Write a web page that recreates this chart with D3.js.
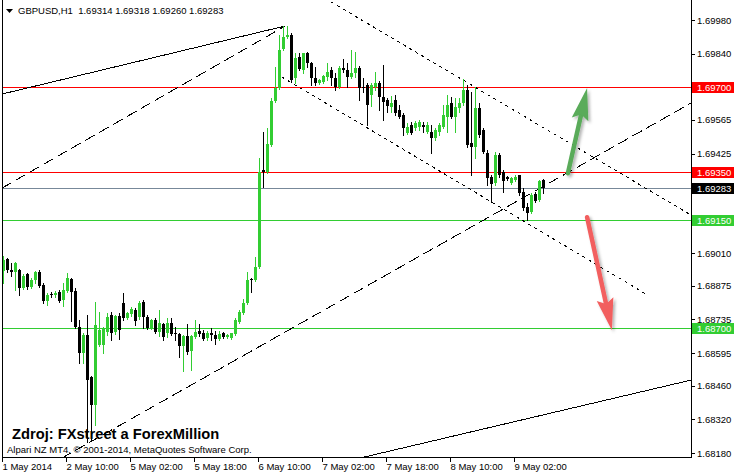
<!DOCTYPE html>
<html><head><meta charset="utf-8">
<script src="https://cdn.jsdelivr.net/npm/d3@7"></script>
<style>html,body{margin:0;padding:0;background:#fff;overflow:hidden}svg{display:block}</style>
</head><body><svg id="c" width="734" height="475"></svg>
<script>
// ---------------- DATA ----------------
const symbolTitle = "GBPUSD,H1";
const lastQuote = [1.69314, 1.69318, 1.69260, 1.69283];
const sourceNote = "Zdroj: FXstreet a ForexMillion";
const copyrightNote = "Alpari NZ MT4, \u00A9 2001-2014, MetaQuotes Software Corp.";

const open = [1.68936,1.68986,1.68940,1.68931,1.68940,1.68865,1.68923,1.68869,1.68898,1.68931,
1.68877,1.68811,1.68840,1.68836,1.68848,1.68815,1.68852,1.68902,1.68852,1.68703,
1.68594,1.68669,1.68494,1.68378,1.68628,1.68628,1.68682,1.68753,1.68682,1.68748,
1.68803,1.68740,1.68757,1.68773,1.68744,1.68807,1.68744,1.68698,1.68732,1.68682,
1.68715,1.68678,1.68719,1.68678,1.68673,1.68623,1.68665,1.68603,1.68661,1.68686,
1.68678,1.68657,1.68678,1.68669,1.68653,1.68678,1.68661,1.68657,1.68673,1.68723,
1.68761,1.68803,1.68902,1.68898,1.68952,1.69356,1.69347,1.69460,1.69643,1.69697,
1.69859,1.69909,1.69917,1.69739,1.69826,1.69772,1.69843,1.69801,1.69739,1.69718,
1.69722,1.69743,1.69772,1.69739,1.69701,1.69780,1.69772,1.69743,1.69759,1.69780,
1.69701,1.69709,1.69668,1.69701,1.69718,1.69659,1.69647,1.69618,1.69647,1.69605,
1.69585,1.69510,1.69543,1.69530,1.69535,1.69543,1.69514,1.69514,1.69489,1.69514,
1.69535,1.69576,1.69635,1.69576,1.69614,1.69635,1.69689,1.69468,1.69451,1.69614,
1.69522,1.69426,1.69327,1.69302,1.69418,1.69347,1.69327,1.69302,1.69314,1.69335,
1.69264,1.69202,1.69181,1.69256,1.69231,1.69314];
const high = [1.68998,1.68990,1.68969,1.68973,1.68944,1.68923,1.68927,1.68906,1.68936,1.68940,
1.68885,1.68844,1.68848,1.68852,1.68857,1.68885,1.68927,1.68906,1.68865,1.68732,
1.68678,1.68753,1.68499,1.68807,1.68765,1.68703,1.68761,1.68765,1.68753,1.68761,
1.68844,1.68765,1.68786,1.68782,1.68811,1.68815,1.68753,1.68736,1.68740,1.68773,
1.68719,1.68740,1.68740,1.68703,1.68678,1.68669,1.68715,1.68669,1.68732,1.68715,
1.68690,1.68686,1.68698,1.68686,1.68686,1.68682,1.68673,1.68678,1.68740,1.68773,
1.68819,1.68931,1.68906,1.68994,1.69405,1.69514,1.69530,1.69655,1.69784,1.69917,
1.69955,1.69955,1.69926,1.69843,1.69843,1.69843,1.69847,1.69805,1.69784,1.69734,
1.69751,1.69801,1.69784,1.69759,1.69788,1.69818,1.69801,1.69855,1.69847,1.69788,
1.69739,1.69718,1.69718,1.69763,1.69726,1.69793,1.69655,1.69664,1.69668,1.69626,
1.69593,1.69551,1.69555,1.69560,1.69564,1.69555,1.69555,1.69543,1.69530,1.69551,
1.69626,1.69668,1.69659,1.69655,1.69655,1.69734,1.69709,1.69680,1.69701,1.69635,
1.69530,1.69439,1.69335,1.69430,1.69426,1.69356,1.69331,1.69327,1.69335,1.69335,
1.69281,1.69219,1.69260,1.69264,1.69314,1.69318];
const low = [1.68885,1.68931,1.68915,1.68857,1.68836,1.68861,1.68861,1.68865,1.68885,1.68869,
1.68803,1.68794,1.68827,1.68827,1.68807,1.68790,1.68848,1.68728,1.68698,1.68553,
1.68553,1.68224,1.68233,1.68295,1.68623,1.68594,1.68669,1.68648,1.68673,1.68653,
1.68732,1.68736,1.68748,1.68711,1.68736,1.68698,1.68694,1.68694,1.68678,1.68665,
1.68648,1.68661,1.68669,1.68648,1.68578,1.68520,1.68590,1.68524,1.68657,1.68665,
1.68648,1.68648,1.68648,1.68632,1.68648,1.68657,1.68657,1.68653,1.68669,1.68719,
1.68757,1.68798,1.68848,1.68894,1.68948,1.69285,1.69343,1.69456,1.69639,1.69693,
1.69855,1.69905,1.69722,1.69718,1.69772,1.69759,1.69784,1.69709,1.69709,1.69714,
1.69718,1.69730,1.69709,1.69689,1.69697,1.69763,1.69701,1.69739,1.69743,1.69647,
1.69680,1.69543,1.69622,1.69689,1.69605,1.69564,1.69597,1.69597,1.69585,1.69572,
1.69501,1.69505,1.69505,1.69522,1.69522,1.69514,1.69510,1.69426,1.69480,1.69501,
1.69530,1.69514,1.69572,1.69514,1.69597,1.69626,1.69451,1.69335,1.69405,1.69493,
1.69426,1.69293,1.69223,1.69293,1.69327,1.69264,1.69314,1.69298,1.69310,1.69252,
1.69189,1.69148,1.69177,1.69223,1.69227,1.69260];
const close = [1.68981,1.68940,1.68931,1.68969,1.68865,1.68915,1.68869,1.68898,1.68931,1.68873,
1.68811,1.68836,1.68836,1.68844,1.68811,1.68857,1.68906,1.68848,1.68703,1.68594,
1.68669,1.68482,1.68378,1.68711,1.68690,1.68698,1.68744,1.68678,1.68748,1.68690,
1.68740,1.68761,1.68778,1.68728,1.68803,1.68744,1.68698,1.68732,1.68682,1.68719,
1.68661,1.68719,1.68673,1.68673,1.68623,1.68665,1.68598,1.68665,1.68682,1.68673,
1.68653,1.68678,1.68669,1.68653,1.68673,1.68661,1.68669,1.68678,1.68732,1.68765,
1.68803,1.68898,1.68898,1.68952,1.69347,1.69347,1.69464,1.69643,1.69697,1.69855,
1.69909,1.69917,1.69730,1.69822,1.69776,1.69843,1.69801,1.69739,1.69718,1.69730,
1.69747,1.69763,1.69739,1.69701,1.69780,1.69772,1.69743,1.69759,1.69780,1.69697,
1.69697,1.69626,1.69709,1.69718,1.69659,1.69639,1.69622,1.69635,1.69593,1.69576,
1.69530,1.69535,1.69510,1.69551,1.69555,1.69535,1.69543,1.69489,1.69522,1.69543,
1.69585,1.69626,1.69576,1.69618,1.69635,1.69689,1.69460,1.69451,1.69614,1.69501,
1.69430,1.69323,1.69298,1.69418,1.69335,1.69310,1.69318,1.69323,1.69327,1.69260,
1.69198,1.69177,1.69252,1.69227,1.69310,1.69283];

const timeTickBars = [0, 16, 32, 48, 64, 80, 96, 112, 128];
const timeTickLabels = ["1 May 2014","2 May 10:00","5 May 02:00","5 May 18:00","6 May 10:00","7 May 02:00","7 May 18:00","8 May 10:00","9 May 02:00"];
const priceTicks = [1.69980,1.69840,1.69700,1.69565,1.69425,1.69285,1.69150,1.69010,1.68875,1.68735,1.68595,1.68460,1.68320,1.68180];

const levelPrices = [1.69700, 1.69350, 1.69150, 1.68700];
const bidPrice = 1.69283;

// trend lines: [bar index, price] anchor pairs
const trendAnchors = [
  [[-0.4, 1.69672], [70.4, 1.69955]],   // solid upper channel line
  [[-0.4, 1.69281], [70.4, 1.69955]],   // dashed upper
  [[14.9, 1.68162], [171.9, 1.69635]],  // dashed lower (ray)
  [[90.9, 1.68166], [150.4, 1.68399]],  // solid lower (ray)
  [[113.6, 1.69743], [171.9, 1.69169]], // dotted upper (ray)
  [[69.6, 1.69743], [161.1, 1.68836]]   // dotted lower (segment)
];
const trendExtend = [false, false, true, true, true, false];
const arrowAnchors = [
  [[141.1, 1.69343], [145.9, 1.69697]], // up arrow
  [[145.9, 1.69160], [152.1, 1.68690]]  // down arrow
];

// ---------------- STYLE ----------------
const BULL = "#32cd32", BEAR = "#000000";
const levelColors = ["#ff0000", "#ff0000", "#32cd32", "#32cd32"];
const bidColor = "#778899";
const trendDash = [null, "11,5", "11,5", null, "3,4", "3,4"];
const arrowColors = ["#5aab5a", "#f25f5f"];
const FONT = "'Liberation Sans', Arial, sans-serif";

// ---------------- CHART ----------------
const svg = d3.select("#c");
const plot = {left: 2.5, right: 691.5, top: 0, bottom: 457.5};

const x = d3.scaleLinear().domain([0, 135]).range([3.5, 543.5]);
const y = d3.scaleLinear().domain([1.68180, 1.69980]).range([453, 20]);

const defs = svg.append("defs");
defs.append("clipPath").attr("id", "clip").append("rect")
  .attr("x", 3).attr("y", 0).attr("width", 688).attr("height", 457);
const f = defs.append("filter").attr("id", "shadow").attr("x", "-50%").attr("y", "-50%").attr("width", "200%").attr("height", "200%");
f.append("feDropShadow").attr("dx", 2).attr("dy", 2).attr("stdDeviation", 1.5).attr("flood-color", "#000").attr("flood-opacity", 0.3);

const g = svg.append("g").attr("clip-path", "url(#clip)");

// horizontal levels
g.selectAll(".lvl").data(levelPrices).enter().append("line")
  .attr("x1", 3).attr("x2", 691)
  .attr("y1", d => Math.round(y(d)) + 0.5).attr("y2", d => Math.round(y(d)) + 0.5)
  .attr("stroke", (d, i) => levelColors[i]).attr("stroke-width", 1).attr("shape-rendering", "crispEdges");
g.append("line").attr("x1", 3).attr("x2", 691)
  .attr("y1", Math.round(y(bidPrice)) + 0.5).attr("y2", Math.round(y(bidPrice)) + 0.5)
  .attr("stroke", bidColor).attr("shape-rendering", "crispEdges");

// trend lines
trendAnchors.forEach((a, k) => {
  let [p0, p1] = a;
  if (trendExtend[k]) {
    const s = (p1[1] - p0[1]) / (p1[0] - p0[0]);
    p0 = [-10, p0[1] + s * (-10 - p0[0])];
    p1 = [200, p0[1] + s * (200 - p0[0])];
  }
  g.append("line")
    .attr("x1", x(p0[0])).attr("y1", y(p0[1]))
    .attr("x2", x(p1[0])).attr("y2", y(p1[1]))
    .attr("stroke", "#000").attr("stroke-width", 1)
    .attr("stroke-dasharray", trendDash[k])
    .attr("shape-rendering", "crispEdges");
});

// candles
const bars = d3.range(open.length).map(i => ({i, o: open[i], h: high[i], l: low[i], c: close[i]}));
const cg = g.append("g").attr("shape-rendering", "crispEdges");
cg.selectAll(".wick").data(bars).enter().append("line")
  .attr("x1", d => x(d.i)).attr("x2", d => x(d.i))
  .attr("y1", d => Math.round(y(d.h))).attr("y2", d => Math.round(y(d.l)) + 1)
  .attr("stroke", d => d.c >= d.o ? BULL : BEAR);
cg.selectAll(".body").data(bars).enter().append("rect")
  .attr("x", d => x(d.i) - 1.5).attr("width", 3)
  .attr("y", d => Math.round(y(Math.max(d.o, d.c))))
  .attr("height", d => Math.max(1, Math.round(y(Math.min(d.o, d.c))) - Math.round(y(Math.max(d.o, d.c)))))
  .attr("fill", d => d.c >= d.o ? BULL : BEAR);

// arrows
arrowAnchors.forEach((a, k) => {
  const x0 = x(a[0][0]), y0 = y(a[0][1]), x1 = x(a[1][0]), y1 = y(a[1][1]);
  const len = Math.hypot(x1 - x0, y1 - y0), ux = (x1 - x0) / len, uy = (y1 - y0) / len;
  const hl = 32, hw = 8.5;
  const bx = x1 - ux * hl, by = y1 - uy * hl;
  const ag = svg.append("g").attr("filter", "url(#shadow)");
  ag.append("line").attr("x1", x0).attr("y1", y0).attr("x2", bx + ux * 4).attr("y2", by + uy * 4)
    .attr("stroke", arrowColors[k]).attr("stroke-width", 4.5).attr("stroke-linecap", "round");
  ag.append("path")
    .attr("d", `M${x1},${y1}L${bx - uy * hw},${by + ux * hw}L${bx + ux * 5},${by + uy * 5}L${bx + uy * hw},${by - ux * hw}Z`)
    .attr("fill", arrowColors[k]);
});

// frame
const frame = svg.append("g").attr("stroke", "#000").attr("shape-rendering", "crispEdges");
frame.append("line").attr("x1", plot.left).attr("x2", plot.left).attr("y1", 0).attr("y2", plot.bottom);
frame.append("line").attr("x1", plot.right).attr("x2", plot.right).attr("y1", 0).attr("y2", plot.bottom);
frame.append("line").attr("x1", plot.left).attr("x2", plot.right).attr("y1", plot.bottom).attr("y2", plot.bottom);

// right price axis
const yAxis = d3.axisRight(y).tickValues(priceTicks).tickSize(3).tickPadding(3).tickFormat(d3.format(".5f"));
const ya = svg.append("g").attr("transform", `translate(${plot.right},0)`).call(yAxis);
ya.select(".domain").remove();
ya.selectAll(".tick line").attr("stroke", "#000").attr("shape-rendering", "crispEdges");
ya.selectAll(".tick text").attr("font-family", FONT).attr("font-size", "9.5px").attr("fill", "#000").attr("x", 5.5);

// price boxes
function priceBox(p, bg) {
  const yy = Math.round(y(p));
  svg.append("rect").attr("x", 692).attr("y", yy - 5).attr("width", 42).attr("height", 11).attr("fill", bg).attr("shape-rendering", "crispEdges");
  svg.append("text").attr("x", 697).attr("y", yy + 4).attr("fill", "#fff")
    .attr("font-family", FONT).attr("font-size", "9.5px").text(d3.format(".5f")(p));
}
levelPrices.forEach((p, i) => priceBox(p, levelColors[i]));
priceBox(bidPrice, "#000");

// bottom time axis
const xa = svg.append("g");
xa.selectAll("line").data(timeTickBars).enter().append("line")
  .attr("x1", d => x(d) - 1).attr("x2", d => x(d) - 1)
  .attr("y1", plot.bottom).attr("y2", plot.bottom + 4)
  .attr("stroke", "#000").attr("shape-rendering", "crispEdges");
xa.selectAll("text").data(timeTickBars).enter().append("text")
  .attr("x", d => x(d) - 1).attr("y", 470)
  .attr("font-family", FONT).attr("font-size", "9.5px").attr("fill", "#000")
  .text((d, i) => timeTickLabels[i]);

// title
svg.append("path").attr("d", "M6,9L13,9L9.5,13Z").attr("fill", "#000");
svg.append("text").attr("x", 18).attr("y", 14).attr("font-family", FONT).attr("font-size", "9.5px").attr("fill", "#000")
  .attr("xml:space", "preserve")
  .text(symbolTitle + "  " + lastQuote.map(d3.format(".5f")).join(" "));

// notes
svg.append("text").attr("x", 12).attr("y", 438.5).attr("font-family", FONT).attr("font-size", "14.7px")
  .attr("font-weight", "bold").attr("fill", "#000").text(sourceNote);
svg.append("text").attr("x", 7).attr("y", 453).attr("font-family", FONT).attr("font-size", "9.5px")
  .attr("fill", "#000").text(copyrightNote);
</script></body></html>
